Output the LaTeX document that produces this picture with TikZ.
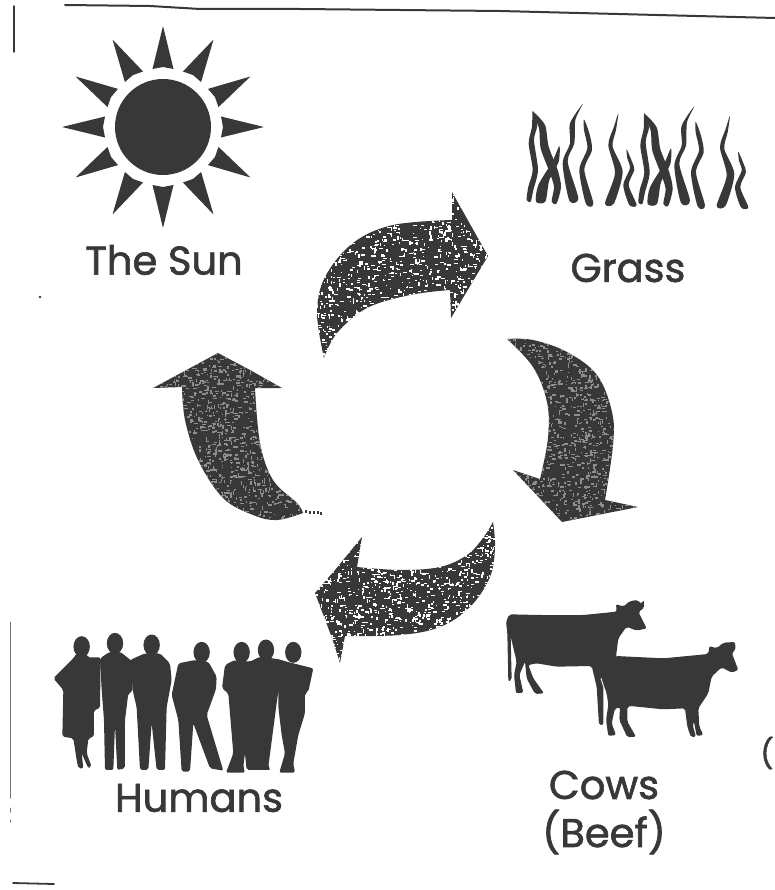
\documentclass[tikz,border=0pt]{standalone}
\usepackage{fontspec}
\setmainfont{Poppins}[RawFeature={embolden=1.6}]
\definecolor{ink}{HTML}{383838}
\definecolor{softspeck}{HTML}{8E8E8E}
\tikzset{
  label text/.style={text=ink,font=\fontsize{40}{46}\selectfont,inner sep=0pt,align=center},
  rule line/.style={draw=ink,line cap=round},
}
% arrow path, bounding box x y w h, speckle colour
\newcommand{\speckarrow}[6]{%
  \fill[ink] #1;
  \begin{scope}
    \clip #1;
    \foreach \i in {1,...,1500}{%
      \pgfmathsetmacro{\xx}{#2+rnd*#4}%
      \pgfmathsetmacro{\yy}{#3+rnd*#5}%
      \pgfmathsetmacro{\ww}{1+rnd*3.4}%
      \pgfmathsetmacro{\hh}{0.8+rnd*1.1}%
      \pgfmathparse{rnd>0.65?1:0}%
      \ifnum\pgfmathresult=1
        \fill[#6] (\xx,\yy) rectangle +(\hh,\ww);
      \else
        \fill[#6] (\xx,\yy) rectangle +(\ww,\hh);
      \fi
    }
  \end{scope}}
\newcommand{\grassgroup}{%
  \fill[ink] plot[smooth cycle,tension=.45] coordinates {(68,62)(82,105)(72,150)(84,240)(70,300)(62,335)(50,330)(55,290)(68,240)(56,160)(66,110)};
  \fill[ink] plot[smooth cycle,tension=.45] coordinates {(68,65)(105,105)(116,170)(143,240)(153,290)(140,340)(125,335)(132,290)(118,245)(92,175)(87,115)};
  \fill[ink] plot[smooth cycle,tension=.45] coordinates {(148,168)(146,215)(118,270)(106,335)(78,335)(85,285)(127,215)};
  \fill[ink] plot[smooth cycle,tension=.45] coordinates {(218,42)(196,90)(193,160)(173,215)(205,325)(178,332)(158,220)(180,160)(180,100)};
  \fill[ink] plot[smooth cycle,tension=.45] coordinates {(222,88)(238,130)(246,180)(223,240)(250,340)(228,342)(208,240)(232,175)(222,120)};
  \fill[ink] plot[smooth cycle,tension=.45] coordinates {(325,70)(318,120)(308,170)(338,245)(312,340)(285,340)(315,250)(295,165)(312,110)};
  \fill[ink] plot[smooth cycle,tension=.45] coordinates {(350,178)(366,215)(373,240)(356,285)(380,345)(358,345)(340,285)(360,235)(352,205)};
}
\begin{document}
\begin{tikzpicture}[x=1pt,y=-1pt]
\useasboundingbox (0,0) rectangle (775,890);
\pgfmathsetseed{4711}

% scan edges
\draw[rule line,line width=2pt] (65,5) -- (150,6) -- (200,9) -- (300,9) -- (500,11) -- (775,18);
\draw[rule line,line width=1.4pt] (14,6) -- (14,52);
\draw[rule line,line width=1pt,draw=ink!70] (10,622) -- (10,798);
\draw[rule line,line width=1pt,draw=ink!70] (10,808) -- (10,812);
\draw[rule line,line width=1pt,draw=ink!70] (10,820) -- (10,822);
\draw[rule line,line width=1.8pt] (13,883) -- (54,884);
\fill[ink] (40,297) circle (1.4);

% sun
\fill[ink] (163,127) circle (48);
\foreach \a in {0,30,...,330}{
  \fill[ink,rotate around={\a:(163,127)}] (163,26) -- (173.5,69) -- (163,67) -- (152.5,69) -- cycle;
}

% grass
\begin{scope}[shift={(510,90)},x=0.3333pt,y=-0.3333pt]
  \grassgroup
  \begin{scope}[shift={(335,7)}]
    \grassgroup
  \end{scope}
\end{scope}

% arrows
\speckarrow{(324,358) -- plot[smooth,tension=.6] coordinates {(324,358)(317,313)(325,277)(353,243)(393,225)(452,220)} -- (452,192) -- (488,256) -- (451,318) -- (450,290) -- plot[smooth,tension=.6] coordinates {(450,290)(410,295)(367,308)(337,333)(324,358)} -- cycle}{310}{185}{185}{180}{white}
\speckarrow{(507,339) -- plot[smooth,tension=.6] coordinates {(507,339)(533,340)(567,352)(597,375)(612,412)(613,445)(605,500)} -- (638,507) -- (562,522) -- (513,470) -- (540,479) -- plot[smooth,tension=.6] coordinates {(540,479)(548,438)(547,402)(533,367)(507,339)} -- cycle}{500}{330}{145}{200}{softspeck}
\speckarrow{(493,522) -- plot[smooth,tension=.6] coordinates {(493,522)(495,547)(490,577)(470,607)(440,627)(400,635)(345,636)} -- (340,663) -- (332,638) -- (315,593) -- (335,570) -- (362,537) -- (357,567) -- plot[smooth,tension=.6] coordinates {(357,567)(400,570)(440,567)(467,555)(483,538)(493,522)} -- cycle}{310}{515}{190}{155}{white}
\speckarrow{(218,353) -- (153,388) -- (182,387) -- plot[smooth,tension=.6] coordinates {(182,387)(185,420)(198,460)(223,498)(253,515)(277,520)(303,513)} -- plot[smooth,tension=.6] coordinates {(303,513)(297,503)(273,480)(260,443)(255,388)} -- (282,388) -- (250,370) -- cycle}{150}{350}{160}{175}{softspeck}
\foreach \px/\py in {305/510,309/511,313/511,317/511,320/512}{\fill[ink] (\px,\py) rectangle +(2.4,3);}

% cows
\begin{scope}[shift={(490,580)},x=0.3333pt,y=-0.3333pt]
  \fill[ink,rounded corners=2pt] (48,125) -- (58,103) -- (150,105) -- (280,105) -- (380,95) -- (378,72) -- (400,80) -- (420,63) -- (445,60) -- (452,72) -- (462,60) -- (462,85) -- (445,95) -- (470,145) -- (440,152) -- (410,140) -- (385,175) -- (378,230) -- (400,300) -- (340,320) -- (340,435) -- (327,435) -- (320,320) -- (305,258) -- (200,260) -- (140,250) -- (115,255) -- (130,295) -- (162,340) -- (135,342) -- (110,295) -- (105,245) -- (88,285) -- (100,338) -- (78,340) -- (72,285) -- (80,245) -- (62,170) -- (65,300) -- (55,305) -- (52,160) -- cycle;
  \fill[ink,rounded corners=2pt] (378,228) -- (520,235) -- (655,222) -- (658,198) -- (680,205) -- (700,188) -- (735,186) -- (737,210) -- (725,218) -- (745,270) -- (725,278) -- (695,262) -- (665,290) -- (655,340) -- (625,385) -- (628,440) -- (640,465) -- (620,468) -- (612,425) -- (608,435) -- (618,470) -- (603,472) -- (592,440) -- (585,385) -- (520,388) -- (420,378) -- (412,380) -- (412,425) -- (438,470) -- (412,472) -- (388,420) -- (390,382) -- (375,385) -- (365,430) -- (378,465) -- (355,468) -- (348,420) -- (355,375) -- (350,340) -- (335,300) -- (310,260) -- cycle;
  \draw[white,line width=0.9pt] (333,295) -- (347,340);
\end{scope}

% humans
\begin{scope}[shift={(30,620)},x=0.3333pt,y=-0.3333pt]
  \foreach \hx/\hy in {155/80,255/70,365/75,515/97,635/97,708/90,790/97}{\fill[ink] (\hx,\hy) ellipse (8.2pt and 10.5pt);}
  \fill[ink,rounded corners=2pt] (140,100) -- (130,115) -- (70,175) -- (100,210) -- (97,350) -- (130,355) -- (140,420) -- (145,445) -- (160,445) -- (155,400) -- (175,445) -- (185,440) -- (170,400) -- (175,355) -- (192,350) -- (192,270) -- (210,265) -- (212,112) -- (172,112) -- (170,100) -- cycle;
  \fill[ink,rounded corners=2pt] (240,95) -- (270,95) -- (308,125) -- (308,215) -- (295,220) -- (285,300) -- (285,445) -- (262,450) -- (255,315) -- (250,450) -- (225,450) -- (222,300) -- (215,210) -- (210,115) -- cycle;
  \fill[ink,rounded corners=2pt] (345,100) -- (390,100) -- (420,130) -- (425,180) -- (410,262) -- (405,450) -- (380,450) -- (365,310) -- (355,450) -- (330,450) -- (320,262) -- (310,220) -- (300,120) -- cycle;
  \fill[ink,rounded corners=2pt] (495,120) -- (535,125) -- (560,170) -- (558,208) -- (530,285) -- (580,452) -- (540,445) -- (490,310) -- (480,455) -- (455,455) -- (445,300) -- (425,225) -- (445,130) -- cycle;
  \fill[ink,rounded corners=2pt] (615,120) -- (660,125) -- (690,110) -- (730,115) -- (770,125) -- (745,215) -- (740,250) -- (715,440) -- (722,450) -- (650,450) -- (645,400) -- (640,440) -- (645,458) -- (588,458) -- (610,400) -- (595,220) -- (576,205) -- (585,135) -- cycle;
  \fill[ink,rounded corners=2pt] (735,115) -- (770,125) -- (850,145) -- (835,215) -- (825,220) -- (825,280) -- (805,345) -- (790,430) -- (795,458) -- (748,458) -- (765,400) -- (755,345) -- (745,260) -- (745,215) -- cycle;
\end{scope}

% labels
\node[label text] (sun) at (164,260) {The Sun};
\node[label text] (grass) at (628,268) {Grass};
\node[label text] (humans) at (199,798) {Humans};
\node[label text] (cows) at (604,785) {Cows};
\node[label text] (beef) at (604,832) {(Beef)};
\node[label text,font=\fontsize{29}{34}\selectfont] (clip) at (767,753) {(};
\end{tikzpicture}
\end{document}
